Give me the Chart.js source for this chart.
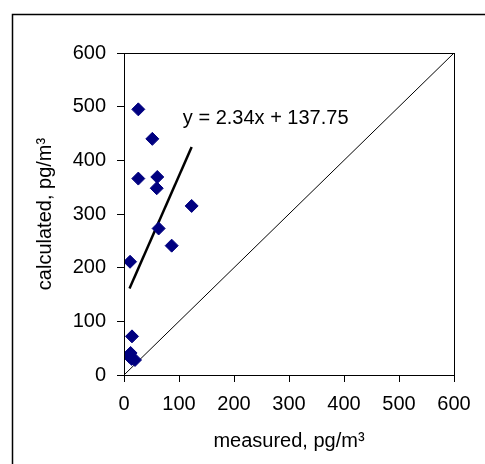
<!DOCTYPE html>
<html>
<head>
<meta charset="utf-8">
<script src="https://cdn.jsdelivr.net/npm/chart.js@4/dist/chart.umd.min.js"></script>
<style>
  html, body { margin: 0; padding: 0; background: #fff; }
  canvas { display: block; }
</style>
</head>
<body>
<canvas id="chart" width="485" height="464"></canvas>
<script>
// measured vs calculated
const measured   = [26, 51.5, 26, 60.5, 59.5, 123, 63, 86.7, 11, 14.5, 12, 14, 20, 10];
const calculated = [495, 440, 366, 369, 348, 315, 273, 241, 211, 72, 41, 30, 28, 34];

// fitted line ends, as drawn
const trendX = [10, 123];
const trendY = [161, 425];
const trendLabel = 'y = 2.34x + 137.75';

// 1:1 line
const diagX = [0, 600];
const diagY = [0, 600];

const tickValues = [0, 100, 200, 300, 400, 500, 600];

const FONT = '"Liberation Sans", Arial, sans-serif';

const points = measured.map((x, i) => ({ x: x, y: calculated[i] }));
const trend = trendX.map((x, i) => ({ x: x, y: trendY[i] }));
const diag = diagX.map((x, i) => ({ x: x, y: diagY[i] }));

// outer frame, plot box and the equation text
const extras = {
  id: 'extras',
  beforeDraw(chart) {
    const c = chart.ctx;
    c.save();
    c.strokeStyle = '#000';
    c.lineWidth = 1.5;
    c.beginPath();
    c.moveTo(12.5, 464);
    c.lineTo(12.5, 14.5);
    c.lineTo(485, 14.5);
    c.stroke();
    c.restore();
  },
  afterDraw(chart) {
    const c = chart.ctx;
    const a = chart.chartArea;
    const xs = chart.scales.x, ys = chart.scales.y;
    c.save();
    c.strokeStyle = '#000';
    c.lineWidth = 1;
    c.strokeRect(Math.round(a.left) + 0.5, Math.round(a.top) + 0.5,
                 Math.round(a.right - a.left), Math.round(a.bottom - a.top));
    c.fillStyle = '#000';
    c.font = '20px ' + FONT;
    c.textAlign = 'left';
    c.textBaseline = 'alphabetic';
    c.fillText(trendLabel, xs.getPixelForValue(107), ys.getPixelForValue(468));
    c.restore();
  }
};

new Chart(document.getElementById('chart'), {
  type: 'scatter',
  data: {
    datasets: [
      {
        data: points,
        pointStyle: 'rectRot',
        pointRadius: 6.5,
        pointBackgroundColor: '#000080',
        pointBorderColor: '#000080',
        pointBorderWidth: 1,
        showLine: false,
        order: 0
      },
      {
        data: trend,
        showLine: true,
        borderColor: '#000',
        borderWidth: 2.5,
        pointRadius: 0,
        order: 1
      },
      {
        data: diag,
        showLine: true,
        borderColor: '#000',
        borderWidth: 1,
        pointRadius: 0,
        order: 2
      }
    ]
  },
  options: {
    responsive: false,
    animation: false,
    devicePixelRatio: 1,
    layout: { padding: { left: 0, top: 53, right: 31, bottom: 0 } },
    plugins: { legend: { display: false }, tooltip: { enabled: false } },
    scales: {
      x: {
        type: 'linear',
        min: 0, max: 600,
        afterBuildTicks: s => { s.ticks = tickValues.map(v => ({ value: v })); },
        afterFit: s => { s.height = 89; },
        grid: { drawOnChartArea: false, drawTicks: true, tickLength: 7, tickColor: '#000' },
        border: { display: true, color: '#000', width: 1 },
        ticks: { color: '#000', font: { family: FONT, size: 20 }, padding: 10, maxRotation: 0 },
        title: {
          display: true, text: 'measured, pg/m³', color: '#000',
          font: { family: FONT, size: 20 }, padding: { top: 4, bottom: 11 }
        }
      },
      y: {
        type: 'linear',
        min: 0, max: 600,
        afterBuildTicks: s => { s.ticks = tickValues.map(v => ({ value: v })); },
        afterFit: s => { s.width = 124; },
        grid: { drawOnChartArea: false, drawTicks: true, tickLength: 7, tickColor: '#000' },
        border: { display: true, color: '#000', width: 1 },
        ticks: { color: '#000', font: { family: FONT, size: 20 }, padding: 11 },
        title: {
          display: true, text: 'calculated, pg/m³', color: '#000',
          font: { family: FONT, size: 20 }, padding: { top: 33, bottom: 4 }
        }
      }
    }
  },
  plugins: [extras]
});
</script>
</body>
</html>
